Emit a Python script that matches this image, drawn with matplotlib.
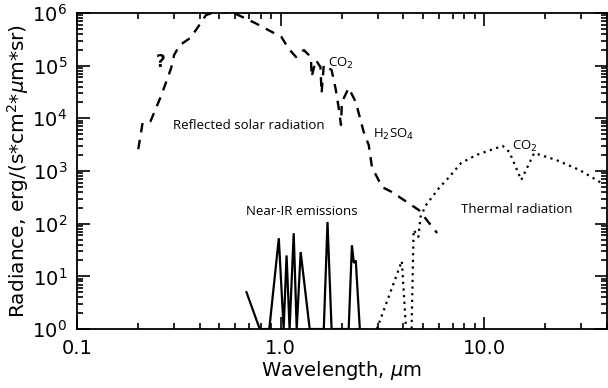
import matplotlib
matplotlib.use('Agg')
import matplotlib.pyplot as plt
from matplotlib.ticker import FixedLocator, LogLocator, NullFormatter

# reflected solar radiation (dashed)
wl_solar = [0.20, 0.21, 0.23, 0.26, 0.29, 0.30, 0.32, 0.36, 0.39, 0.43, 0.48, 0.59, 0.75,
            1.01, 1.09, 1.19, 1.30, 1.41, 1.42, 1.49, 1.57, 1.59, 1.63, 1.78, 1.86, 1.93,
            1.98, 2.00, 2.16, 2.34, 2.56, 2.71, 2.81, 3.15, 3.52, 4.78, 5.87]
rad_solar = [2600, 8200, 8900, 27700, 90000, 160000, 246000, 335000, 518000, 915000, 1.05e6,
             1.0e6, 645000, 350000, 216000, 146000, 198000, 146000, 61000, 128000, 94000,
             30000, 103000, 82800, 37700, 15700, 7470, 20400, 37700, 20400, 5500, 3100, 1190,
             497, 399, 181, 66.5]

# near-IR emissions (solid)
wl_nir = [0.68, 0.79, 0.88, 0.98, 1.035, 1.07, 1.107, 1.16, 1.20, 1.255, 1.39, 1.63, 1.70,
          1.78, 2.16, 2.24, 2.29, 2.34, 2.45]
rad_nir = [5.0, 1, 1, 53, 1, 25, 1, 66, 1, 29, 1, 1, 108, 1, 1, 39, 18, 20, 1]

# thermal radiation (dotted)
wl_th = [2.97, 3.94, 4.13, 4.40, 4.50, 4.75, 4.87, 5.18, 6.0, 6.73, 7.7, 9.14, 11.5, 12.3,
         13.3, 15.2, 17.6, 22.6, 29.4, 37.7]
rad_th = [1, 19.6, 1, 1, 76, 56, 136, 226, 475, 769, 1418, 2012, 2733, 3000,
          2292, 675, 2196, 1617, 1045, 592]

xticks = [0.1, 1.0, 10.0]
xticklabels = ['0.1', '1.0', '10.0']

fig = plt.figure(figsize=(6.08, 3.88), dpi=100)
ax = fig.add_axes([0.1266, 0.152, 0.8714, 0.8145])

ax.plot(wl_solar, rad_solar, color='black', lw=1.7, linestyle=(0, (4, 3.2)))
ax.plot(wl_nir, rad_nir, color='black', lw=1.6, solid_joinstyle='miter')
ax.plot(wl_th, rad_th, color='black', lw=1.6, linestyle=(0, (1, 2.0)))

ax.set_xscale('log')
ax.set_yscale('log')
ax.set_xlim(0.1, 40)
ax.set_ylim(1, 1e6)

# minor ticks only inside the plotted range
xminor = [m * d for d in (0.1, 1, 10) for m in range(2, 10) if m * d <= 40]
yminor = [m * 10 ** e for e in range(6) for m in range(2, 10)]

ax.set_xticks(xticks, xticklabels)
ax.xaxis.set_minor_locator(FixedLocator(xminor))
ax.xaxis.set_minor_formatter(NullFormatter())
ax.yaxis.set_major_locator(LogLocator(base=10, numticks=10))
ax.yaxis.set_minor_locator(FixedLocator(yminor))
ax.yaxis.set_minor_formatter(NullFormatter())

ax.tick_params(which='both', direction='in', top=True, right=True, width=1.2)
ax.tick_params(which='major', length=9, labelsize=14, pad=7)
ax.tick_params(which='minor', length=4.5)
for s in ax.spines.values():
    s.set_linewidth(1.3)

ax.set_xlabel(r'Wavelength, $\mu$m', fontsize=14, labelpad=1)
ax.set_ylabel(r'Radiance, erg/(s*cm$^2$*$\mu$m*sr)', fontsize=14.5, labelpad=1)

tfont = dict(family='Open Sans', fontsize=9.5, color='black')
ax.text(0.257, 117000, '?', ha='center', va='center', fontsize=12, fontweight='bold')
ax.text(0.297, 7470, 'Reflected solar radiation', ha='left', va='center', **tfont)
ax.text(1.70, 112000, r'CO$_2$', ha='left', va='center', **tfont)
ax.text(2.84, 5040, r'H$_2$SO$_4$', ha='left', va='center', **tfont)
ax.text(0.68, 174, 'Near-IR emissions', ha='left', va='center', **tfont)
ax.text(7.7, 182, 'Thermal radiation', ha='left', va='center', **tfont)
ax.text(13.7, 2980, r'CO$_2$', ha='left', va='center', **tfont)

fig.savefig('out.png', dpi=100)
